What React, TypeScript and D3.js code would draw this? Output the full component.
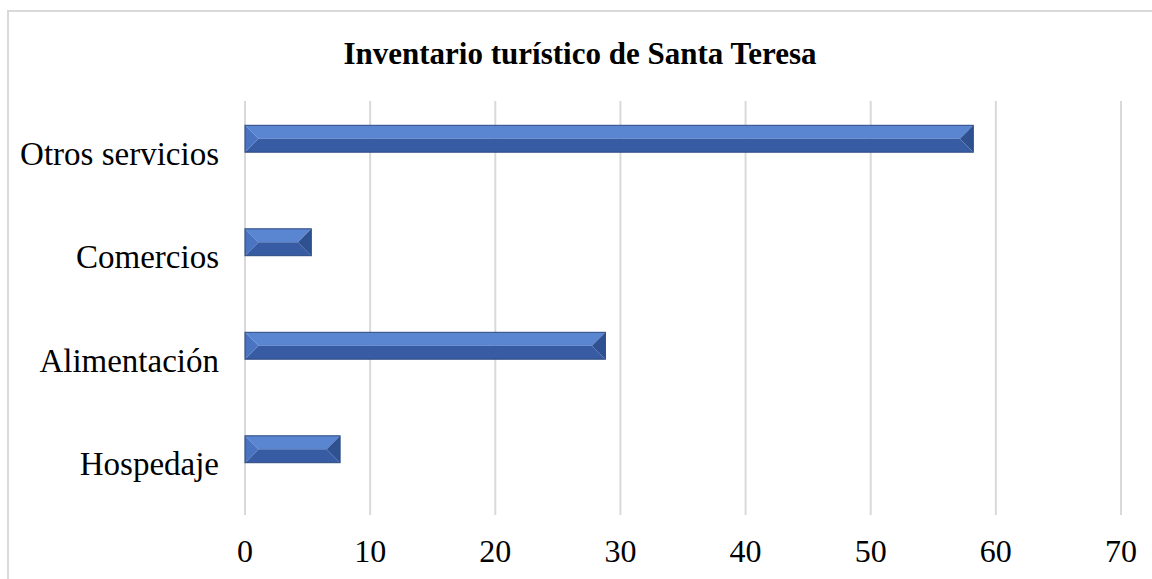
import { useRef, useEffect } from "react";
import * as d3 from "d3";

const categories = ["Otros servicios", "Comercios", "Alimentación", "Hospedaje"];
const values = [58.2, 5.3, 28.8, 7.6];
const xTicks = [0, 10, 20, 30, 40, 50, 60, 70];
const title = "Inventario turístico de Santa Teresa";

export default function App() {
  const svgRef = useRef<SVGSVGElement>(null);

  useEffect(() => {
    if (!svgRef.current) return;
    document.body.style.margin = "0";
    const svg = d3.select(svgRef.current);
    svg.selectAll("*").remove();

    const width = 1152;
    const height = 579;
    const font = "'Liberation Serif', 'Times New Roman', serif";

    // Chart frame (cut off at right and bottom)
    svg
      .append("rect")
      .attr("x", 8)
      .attr("y", 11)
      .attr("width", width + 20)
      .attr("height", height + 20)
      .attr("fill", "#ffffff")
      .attr("stroke", "#d9d9d9")
      .attr("stroke-width", 2);

    const x = d3.scaleLinear().domain([0, 70]).range([245, 1121]);
    const y = d3
      .scaleBand<string>()
      .domain(categories)
      .range([87, 501])
      .paddingInner(0.74)
      .paddingOuter(0.37);

    // Grid lines
    svg
      .append("g")
      .selectAll("line")
      .data(xTicks)
      .join("line")
      .attr("x1", (d) => x(d))
      .attr("x2", (d) => x(d))
      .attr("y1", 101)
      .attr("y2", 515)
      .attr("stroke", "#d9d9d9")
      .attr("stroke-width", 2);

    // Tick labels
    svg
      .append("g")
      .selectAll("text")
      .data(xTicks)
      .join("text")
      .attr("x", (d) => x(d))
      .attr("y", 562)
      .attr("text-anchor", "middle")
      .attr("font-family", font)
      .attr("font-size", "32px")
      .attr("fill", "#000")
      .text((d) => d);

    // Category labels
    svg
      .append("g")
      .selectAll("text")
      .data(categories)
      .join("text")
      .attr("x", 219)
      .attr("y", (d) => (y(d) ?? 0) + y.bandwidth() / 2 + 26)
      .attr("text-anchor", "end")
      .attr("font-family", font)
      .attr("font-size", "33px")
      .attr("fill", "#000")
      .text((d) => d);

    // Bevelled bars
    const bars = svg
      .append("g")
      .selectAll("g")
      .data(categories.map((c, i) => ({ c, v: values[i] })))
      .join("g");

    const faces = [
      { name: "top", fill: "#5985d1" },
      { name: "bottom", fill: "#385ca3" },
      { name: "left", fill: "#4a73c2" },
      { name: "right", fill: "#2f5192" },
    ];

    faces.forEach((f) => {
      bars
        .append("polygon")
        .attr("fill", f.fill)
        .attr("points", (d) => {
          const x0 = x(0);
          const x1 = x(d.v);
          const y0 = y(d.c) ?? 0;
          const y1 = y0 + y.bandwidth();
          const b = Math.min(y.bandwidth() / 2, (x1 - x0) / 2);
          const ym = (y0 + y1) / 2;
          let pts: number[][];
          if (f.name === "top") pts = [[x0, y0], [x1, y0], [x1 - b, ym], [x0 + b, ym]];
          else if (f.name === "bottom") pts = [[x0, y1], [x1, y1], [x1 - b, ym], [x0 + b, ym]];
          else if (f.name === "left") pts = [[x0, y0], [x0 + b, ym], [x0, y1]];
          else pts = [[x1, y0], [x1 - b, ym], [x1, y1]];
          return pts.map((p) => p.join(",")).join(" ");
        });
    });

    bars
      .append("rect")
      .attr("x", x(0))
      .attr("y", (d) => y(d.c) ?? 0)
      .attr("width", (d) => x(d.v) - x(0))
      .attr("height", y.bandwidth())
      .attr("fill", "none")
      .attr("stroke", "#2d4a80")
      .attr("stroke-width", 1);

    // Title
    svg
      .append("text")
      .attr("x", 580)
      .attr("y", 64)
      .attr("text-anchor", "middle")
      .attr("font-family", font)
      .attr("font-size", "31px")
      .attr("font-weight", "bold")
      .attr("fill", "#000")
      .text(title);
  }, []);

  return (
    <div style={{ position: "absolute", left: 0, top: 0 }}>
      <svg ref={svgRef} width={1152} height={579} style={{ display: "block" }} />
    </div>
  );
}
